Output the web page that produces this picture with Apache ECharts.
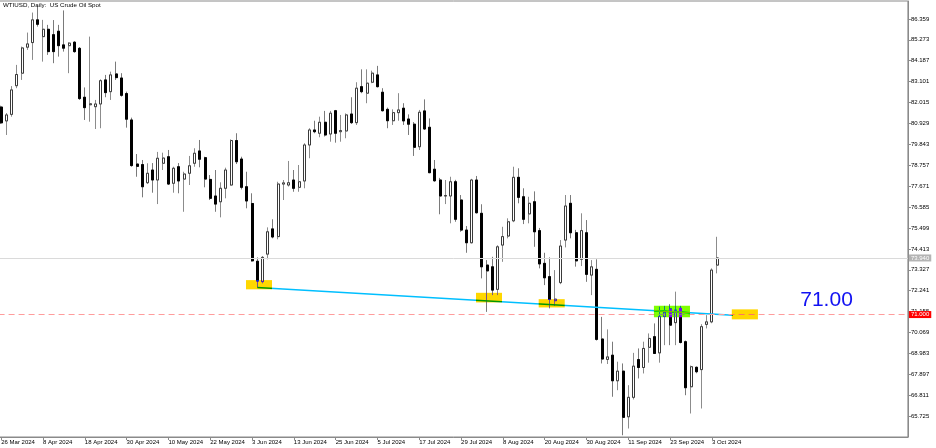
<!DOCTYPE html>
<html><head><meta charset="utf-8">
<script src="https://cdn.jsdelivr.net/npm/echarts@6/dist/echarts.min.js"></script>
<style>html,body{margin:0;padding:0;background:#fff}#c{width:936px;height:448px}</style>
</head><body><div id="c"></div>
<script>
// ---------------- DATA ----------------
const chartTitle = 'WTIUSD, Daily:  US Crude Oil Spot';
const firstDay = [2024, 2, 26];   // 26 Mar 2024
const lastDay = [2024, 9, 4];     // 4 Oct 2024
const skippedDays = ['2024-03-29'];
const dateTickLabels = ['26 Mar 2024','8 Apr 2024','18 Apr 2024','30 Apr 2024','10 May 2024','22 May 2024','3 Jun 2024','13 Jun 2024','25 Jun 2024','5 Jul 2024','17 Jul 2024','29 Jul 2024','8 Aug 2024','20 Aug 2024','30 Aug 2024','11 Sep 2024','23 Sep 2024','3 Oct 2024'];
const priceTicks = [65.725,66.811,67.897,68.983,70.069,71.155,72.241,73.327,74.413,75.499,76.585,77.671,78.757,79.843,80.929,82.015,83.101,84.187,85.273,86.359];
const emptySlots = 36;

const opens = [81.78,81.06,81.40,82.89,83.54,84.89,85.13,86.31,85.44,85.82,85.54,85.72,85.01,84.97,85.15,84.83,82.29,81.90,81.80,81.94,
83.19,82.58,83.50,83.29,82.48,81.11,78.82,78.79,77.85,78.51,77.99,78.86,79.20,77.82,78.68,78.04,78.34,78.86,79.50,79.15,
78.02,77.16,76.86,77.56,77.73,80.04,79.08,77.64,76.77,73.77,72.71,74.14,75.45,75.05,77.78,77.73,77.99,77.61,77.94,79.81,
80.59,80.42,80.99,80.38,81.59,80.50,80.54,81.42,80.97,82.84,82.50,83.07,83.45,82.55,81.66,81.07,81.49,81.72,81.16,80.89,
79.72,81.58,80.73,78.55,77.99,77.16,77.16,77.90,76.95,75.39,74.73,77.99,76.26,73.57,73.48,72.31,74.61,75.08,75.87,78.13,
77.12,76.23,76.86,75.36,73.66,72.97,71.72,72.66,74.87,76.78,75.25,73.87,75.25,73.05,73.35,69.73,68.67,68.89,67.56,68.06,
65.69,66.70,68.66,68.25,69.30,69.85,69.01,70.90,71.29,70.58,71.32,69.59,67.25,68.26,68.14,70.49,70.62,73.57];
const closes = [80.96,81.37,82.67,83.47,84.85,85.06,86.31,86.08,85.82,84.66,84.66,84.97,84.84,85.10,84.66,82.22,81.75,81.95,81.94,83.15,
82.53,83.45,83.31,82.39,81.15,78.74,78.70,77.64,78.34,77.99,79.12,79.13,77.78,78.60,77.94,78.30,78.73,79.38,79.07,78.04,
77.04,76.74,77.56,78.51,80.04,78.94,77.61,76.90,73.79,72.74,73.97,75.30,75.03,77.78,77.84,77.85,77.56,77.90,79.81,80.59,
80.50,80.99,80.33,81.46,80.42,80.56,81.37,80.97,82.76,82.58,83.02,83.54,82.84,81.59,81.07,81.49,81.63,81.06,80.89,79.69,
81.51,80.64,78.37,77.95,77.16,77.18,77.90,75.95,75.39,74.73,77.99,76.29,73.48,73.27,72.27,74.52,75.05,75.82,78.13,77.09,
75.95,76.78,75.30,73.63,72.91,71.79,71.80,74.56,76.64,75.25,73.79,75.36,73.09,73.48,69.71,68.69,68.80,67.56,68.06,65.66,
66.70,68.32,68.25,69.24,69.76,68.98,70.90,71.10,70.45,71.23,69.55,67.20,68.29,68.03,70.37,70.62,73.31,73.94];
const lows = [80.90,80.33,81.28,82.76,83.19,84.75,84.23,85.96,84.14,84.49,84.06,84.40,84.66,83.54,84.60,82.15,81.11,81.02,80.64,80.68,
82.29,82.15,83.19,82.32,80.71,78.68,78.16,77.09,77.78,77.33,76.74,78.51,77.73,77.33,77.30,76.34,77.73,78.68,78.65,77.61,
76.95,76.34,76.05,77.04,77.70,78.82,77.50,76.52,73.75,72.41,72.62,73.87,74.96,74.91,76.95,77.65,77.38,77.38,77.56,79.12,
80.42,80.21,80.25,79.98,79.93,79.98,80.16,80.90,80.85,82.50,81.98,83.02,82.80,81.55,80.68,80.85,81.07,80.85,80.33,79.24,
79.55,80.60,78.35,77.90,76.21,76.74,75.74,75.82,75.30,74.21,74.70,76.25,72.88,71.14,72.01,72.01,73.74,74.96,75.80,76.78,
75.70,75.74,74.52,73.40,72.53,71.32,71.45,72.58,74.49,74.96,73.49,73.52,72.70,72.01,69.65,68.46,68.43,66.73,67.07,64.73,
65.08,66.59,67.68,67.94,68.50,68.95,68.50,69.41,69.41,69.41,69.50,66.81,65.86,67.95,66.12,70.28,70.55,73.14];
const highs = [81.85,81.47,82.87,83.97,84.92,85.65,86.69,87.03,86.31,86.05,86.30,86.05,86.80,85.15,85.20,84.90,82.80,85.44,82.15,83.22,
83.45,83.62,84.14,83.54,82.58,81.23,79.34,79.03,78.86,78.87,79.45,79.41,79.55,78.68,78.87,78.42,79.24,79.64,80.07,79.20,
78.25,78.51,77.87,78.63,80.10,80.42,79.20,78.42,77.30,73.97,74.04,75.53,75.95,77.90,77.99,78.98,78.51,78.77,79.90,80.68,
81.07,81.28,81.58,81.58,81.63,81.37,81.45,82.29,83.07,83.74,83.74,83.67,83.92,82.76,81.75,81.66,82.50,81.98,81.40,81.00,
81.63,82.18,81.19,79.03,78.10,77.99,78.16,78.00,77.21,75.60,78.05,78.20,76.73,73.83,74.00,74.60,75.56,76.00,78.68,78.60,
77.56,77.12,77.40,75.50,74.21,73.97,73.31,74.87,77.21,77.21,75.40,76.26,75.91,73.83,73.87,70.88,70.23,69.59,68.55,68.46,
67.33,69.01,69.24,69.59,70.02,70.54,71.41,71.45,71.54,72.19,71.45,69.65,68.35,68.30,70.50,70.97,73.40,75.04];

// trend line (bar index, price)
const trendStart = [49, 72.41];
const trendEnd = [140, 70.97];
// marked zones: start bar, end bar, upper price, lower price, kind
const zoneStart = [46.84, 90.85, 102.85, 124.9, 139.8];
const zoneEnd   = [51.82, 95.83, 107.83, 131.8, 144.8];
const zoneTop   = [72.79, 72.13, 71.80, 71.46, 71.27];
const zoneBottom= [72.31, 71.63, 71.37, 70.86, 70.75];
const zoneKind  = ['touch','touch','touch','break','target'];
const levelPrice = 71.00;
const levelText = '71.00';
const levelTextPos = [152.9, 71.75];
const lastPrice = 73.94;

// ---------------- BUILD ----------------
const monthNames = ['Jan','Feb','Mar','Apr','May','Jun','Jul','Aug','Sep','Oct','Nov','Dec'];
const dates = [];
{
  const d = new Date(Date.UTC(firstDay[0], firstDay[1], firstDay[2]));
  const end = Date.UTC(lastDay[0], lastDay[1], lastDay[2]);
  while (d.getTime() <= end) {
    const wd = d.getUTCDay();
    const iso = d.toISOString().slice(0, 10);
    if (wd !== 0 && wd !== 6 && skippedDays.indexOf(iso) < 0) {
      dates.push(d.getUTCDate() + ' ' + monthNames[d.getUTCMonth()] + ' ' + d.getUTCFullYear());
    }
    d.setUTCDate(d.getUTCDate() + 1);
  }
}
const categories = dates.concat(new Array(emptySlots).fill(''));
// full candles (drawn for the wicks) and body-only candles on top
const candleData = opens.map((o, i) => [o, closes[i], lows[i], highs[i]]);
const bodyData = opens.map((o, i) => [o, closes[i], Math.min(o, closes[i]), Math.max(o, closes[i])]);
const zoneData = zoneStart.map((s, i) => [s, zoneEnd[i], zoneTop[i], zoneBottom[i], zoneKind[i]]);
const tickStep = +(priceTicks[1] - priceTicks[0]).toFixed(3);

// ---------------- STYLE ----------------
const FONT = 'Liberation Sans';
// MT4 draws these zones in XOR mode: these are the XOR colours (yellow / lime on white)
const xorColor = { touch: '#0028ff', break: '#7f00ff', target: '#0028ff' };
const slots = categories.length;
const bandW = 5.226;
const plotLeft = 1.2 - bandW / 2;

function fracX(api, v, y) {
  const i = Math.floor(v);
  const p = api.coord([i, y]);
  const bw = api.size([1, 0])[0];
  return [p[0] + (v - i) * bw, p[1]];
}

const chart = echarts.init(document.getElementById('c'), null, { renderer: 'canvas' });
chart.setOption({
  animation: false,
  backgroundColor: '#ffffff',
  graphic: [{ type: 'rect', z: -100, silent: true, left: 0, top: 0,
    shape: { x: 0, y: 0, width: 936, height: 448 }, style: { fill: '#ffffff' } }],
  title: {
    text: chartTitle, left: 3, top: 2, padding: 0,
    textStyle: { fontFamily: FONT, fontSize: 6.2, fontWeight: 'normal', color: '#000' }
  },
  grid: {
    left: plotLeft, top: 1, width: slots * bandW, height: 436,
    show: true, borderColor: '#8a8a8a', borderWidth: 1, containLabel: false, outerBoundsMode: 'none'
  },
  xAxis: {
    type: 'category', data: categories, boundaryGap: true,
    axisLine: { show: true, lineStyle: { color: '#8a8a8a', width: 1 } },
    axisTick: { show: true, alignWithLabel: true, length: 3, lineStyle: { color: '#8a8a8a' },
      interval: (idx, val) => dateTickLabels.indexOf(val) >= 0 },
    axisLabel: { show: true, align: 'left', margin: 2, fontFamily: FONT, fontSize: 6, color: '#000',
      interval: (idx, val) => dateTickLabels.indexOf(val) >= 0 },
    splitLine: { show: false }
  },
  yAxis: {
    type: 'value', position: 'right', scale: true,
    min: +(priceTicks[0] - tickStep).toFixed(3), max: 87.29, interval: tickStep,
    axisLine: { show: true, lineStyle: { color: '#8a8a8a', width: 1 } },
    axisTick: { show: true, length: 3, lineStyle: { color: '#8a8a8a' } },
    axisLabel: { show: true, margin: 3, fontFamily: FONT, fontSize: 6, color: '#000',
      showMinLabel: false, showMaxLabel: false,
      formatter: v => v.toFixed(3) },
    splitLine: { show: false }
  },
  series: [
    {
      type: 'candlestick', data: candleData, barWidth: 2.5, z: 2,
      itemStyle: { color: '#ffffff', color0: '#000000', borderColor: '#8c8c8c', borderColor0: '#7a7a7a', borderWidth: 1 },
      markLine: {
        silent: true, symbol: ['none', 'none'], animation: false,
        data: [
          { yAxis: lastPrice, lineStyle: { color: '#dadada', width: 1, type: 'solid' },
            label: { show: true, position: 'end', distance: 1, formatter: lastPrice.toFixed(3), color: '#fff',
              backgroundColor: '#b4b4b4', padding: [1, 2, 0, 2], fontFamily: FONT, fontSize: 6 } },
          { yAxis: levelPrice, lineStyle: { color: '#ff9c9c', width: 1, type: [6, 4] },
            label: { show: true, position: 'end', distance: 1, formatter: levelPrice.toFixed(3), color: '#fff',
              backgroundColor: '#ff0000', padding: [1, 2, 0, 2], fontFamily: FONT, fontSize: 6 } }
        ]
      }
    },
    {
      type: 'candlestick', data: bodyData, barWidth: 2.5, z: 2,
      itemStyle: { color: '#ffffff', color0: '#000000', borderColor: '#3a3a3a', borderColor0: '#000000', borderWidth: 1 }
    },
    {
      type: 'line', data: [trendStart, trendEnd], symbol: 'none', z: 3,
      lineStyle: { color: '#00bfff', width: 1.5 }
    },
    {
      type: 'custom', z: 5, data: zoneData,
      dimensions: ['s', 'e', 'top', 'bottom', 'kind'],
      encode: { x: [0, 1], y: [2, 3] },
      renderItem: (params, api) => {
        const a = fracX(api, api.value(0), api.value(2));
        const b = fracX(api, api.value(1), api.value(3));
        const kind = zoneKind[params.dataIndex];
        return { type: 'rect', name: 'xorzone', shape: { x: a[0], y: a[1], width: b[0] - a[0], height: b[1] - a[1] },
          style: { fill: xorColor[kind], blend: 'difference' } };
      }
    },
    {
      type: 'custom', z: 6, data: [levelTextPos],
      renderItem: (params, api) => {
        const p = fracX(api, api.value(0), api.value(1));
        return { type: 'text', x: p[0], y: p[1],
          style: { text: levelText, fill: '#1212f2', fontFamily: FONT, fontSize: 21, align: 'left', verticalAlign: 'middle' } };
      }
    }
  ]
});

// apply the XOR-like compositing of the zone rectangles
function applyBlend() {
  const zr = chart.getZr();
  const xorFills = Object.values(xorColor).map(c => c.toLowerCase());
  let changed = false;
  zr.storage.getDisplayList(true).forEach(el => {
    const f = el.style && typeof el.style.fill === 'string' ? el.style.fill.toLowerCase() : '';
    if (el.name === 'xorzone' || (el.type === 'rect' && xorFills.indexOf(f) >= 0)) {
      if (el.style.blend !== 'difference') { el.style.blend = 'difference'; el.markRedraw(); changed = true; }
    }
  });
  if (changed) zr.refreshImmediately();
}
applyBlend();
chart.on('finished', applyBlend);
</script></body></html>
